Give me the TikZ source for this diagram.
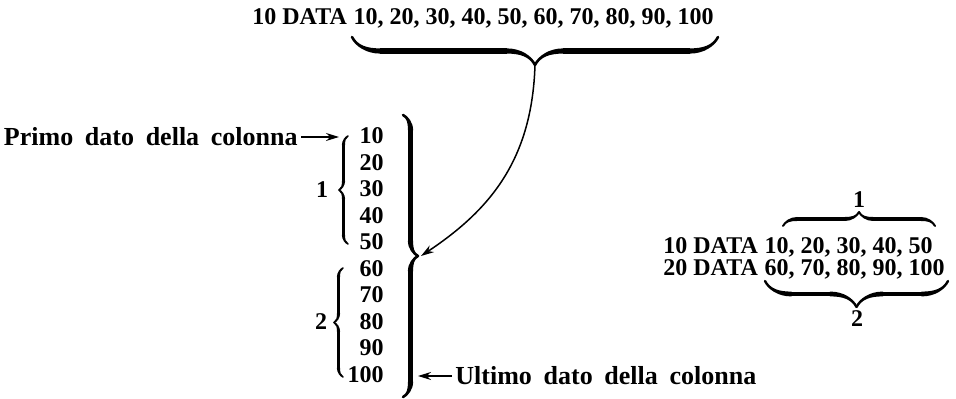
\documentclass[tikz,border=0pt]{standalone}
\usepackage{fontspec}
\setmainfont{Liberation Serif}
\newfontfamily\labelfont[WordSpace=1.8]{Liberation Serif}
\usetikzlibrary{arrows.meta,positioning,decorations.pathreplacing,calligraphy}

\begin{document}
\begin{tikzpicture}[x=0.5pt, y=-0.5pt,
  txt/.style={font=\fontsize{12}{14}\selectfont\bfseries, inner sep=0pt},
  num/.style={txt, anchor=base east},
  lbl/.style={font=\labelfont\fontsize{13}{15}\selectfont\bfseries, inner sep=1.5pt},
  curly/.style={decorate, decoration={calligraphic brace, amplitude=#1}},
  arrow/.style={-{Stealth[length=6.5pt,width=4pt]}, line width=0.75pt}
]
\useasboundingbox (0,0) rectangle (956,399);

\node[txt, anchor=base west] (topdata) at (252,25) {10 DATA};
\node[txt, anchor=base west] (topnums) at ([xshift=3pt]topdata.base east)
  {10, 20, 30, 40, 50, 60, 70, 80, 90, 100};
\draw[curly=14pt, line width=2.6pt] (718,37) -- (352,37);
\coordinate (toptip) at (535,65);

\node[num] (c10) at (384,144) {10};
\node[num] (c20) at (384,170.5) {20};
\node[num] (c30) at (384,197) {30};
\node[num] (c40) at (384,223.5) {40};
\node[num] (c50) at (384,250) {50};
\node[num] (c60) at (384,276.5) {60};
\node[num] (c70) at (384,303) {70};
\node[num] (c80) at (384,329.5) {80};
\node[num] (c90) at (384,356) {90};
\node[num] (c100) at (384,382.5) {100};

\draw[curly=4.5pt, line width=1.6pt] (348,244) -- (348,136);
\draw[curly=4.5pt, line width=1.6pt] (343,377) -- (343,268);
\node[txt] (grp1) at (322,190) {1};
\node[txt] (grp2) at (321,322) {2};

\draw[curly=7.5pt, line width=2.6pt] (403,115) -- (403,397);
\coordinate (bigtip) at (421,256);
\draw[arrow] (toptip) .. controls +(-3,95) and +(69,-46) .. (bigtip);

\node[lbl, anchor=east] (primo) at (301,137) {Primo dato della colonna};
\coordinate (firstptr) at (339,137);
\draw[arrow] (primo) -- (firstptr);

\node[lbl, anchor=west] (ultimo) at (452,376) {Ultimo dato della colonna};
\coordinate (lastptr) at (418,376);
\draw[arrow] (ultimo) -- (lastptr);

\node[txt, anchor=base west] (line1) at (663,254) {10 DATA};
\node[txt, anchor=base west] (nums1) at ([xshift=3pt]line1.base east) {10, 20, 30, 40, 50};
\node[txt, anchor=base west] (line2) at (663,276) {20 DATA};
\node[txt, anchor=base west] (nums2) at ([xshift=3pt]line2.base east) {60, 70, 80, 90, 100};
\draw[curly=7pt, line width=2pt] (783,226) -- (935,226);
\draw[curly=13pt, line width=2.4pt] (948,281) -- (765,281);
\node[txt] (part1) at (859,200) {1};
\node[txt] (part2) at (857,319) {2};
\end{tikzpicture}
\end{document}
